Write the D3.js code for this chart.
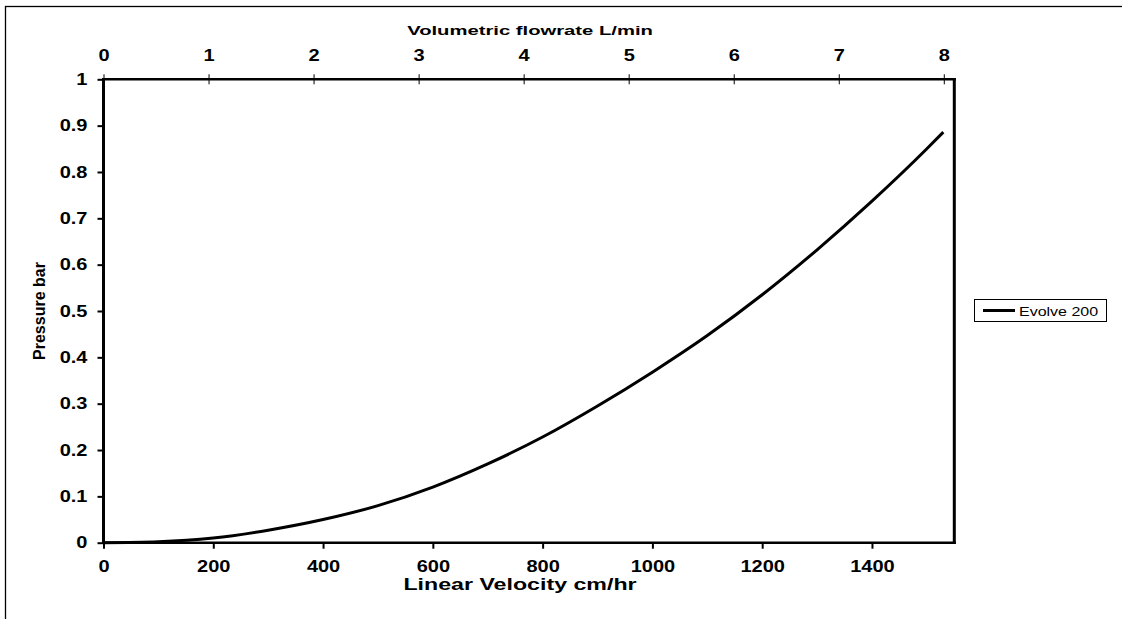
<!DOCTYPE html>
<html>
<head>
<meta charset="utf-8">
<script src="https://cdn.jsdelivr.net/npm/d3@7"></script>
<style>
  body { margin: 0; background: #fff; }
  svg text { font-family: 'Liberation Sans', Arial, sans-serif; fill: #000; }
  .tick text { font-size: 16px; font-weight: bold; }
</style>
</head>
<body>
<svg width="1122" height="619"></svg>
<script>
// linear velocity (cm/hr) and pressure (bar)
const velocity = [0, 100, 200, 300, 400, 500, 600, 700, 800, 900, 1000, 1100, 1200, 1300, 1400, 1500, 1530];
const pressure = [0, 0.002, 0.010, 0.027, 0.050, 0.080, 0.120, 0.170, 0.228, 0.295, 0.368, 0.447, 0.535, 0.632, 0.737, 0.850, 0.886];
const seriesName = 'Evolve 200';

const xTicks = [0, 200, 400, 600, 800, 1000, 1200, 1400];
const yTicks = [0, 0.1, 0.2, 0.3, 0.4, 0.5, 0.6, 0.7, 0.8, 0.9, 1];
const flowTicks = [0, 1, 2, 3, 4, 5, 6, 7, 8];

const svg = d3.select('svg');
const stretchX = 1.25;

const plot = { left: 103.5, right: 954.3, top: 79.3, bottom: 542.7 };

const xScale = d3.scaleLinear().domain([0, 1550]).range([plot.left, plot.right]);
const flowScale = d3.scaleLinear().domain([0, 8.1]).range([plot.left, plot.right]);
const yScale = d3.scaleLinear().domain([0, 1]).range([plot.bottom, plot.top]);

// excel text looks horizontally stretched
const stretch = (sel, sx) => sel.each(function () {
  const t = d3.select(this);
  const x = +t.attr('x') || 0;
  const y = +t.attr('y') || 0;
  t.attr('x', null).attr('y', null)
    .attr('transform', `translate(${x},${y}) scale(${sx},1)`);
});

// outer frame (runs off the page on right and bottom)
svg.append('rect')
  .attr('x', 5.5).attr('y', 6.5)
  .attr('width', 1300).attr('height', 800)
  .attr('fill', 'none').attr('stroke', '#000').attr('stroke-width', 1.3);

// left axis
const yAxisG = svg.append('g')
  .attr('transform', `translate(${plot.left},0)`)
  .call(d3.axisLeft(yScale).tickValues(yTicks).tickFormat(d => d).tickSize(6).tickPadding(10));
yAxisG.select('.domain').remove();
yAxisG.selectAll('.tick line').attr('stroke-width', 2);
stretch(yAxisG.selectAll('.tick text'), stretchX);

// bottom axis
const xAxisG = svg.append('g')
  .attr('transform', `translate(0,${plot.bottom})`)
  .call(d3.axisBottom(xScale).tickValues(xTicks).tickFormat(d => d).tickSize(6).tickPadding(12));
xAxisG.select('.domain').remove();
xAxisG.selectAll('.tick line').attr('stroke-width', 2);
stretch(xAxisG.selectAll('.tick text'), stretchX);

// top axis (flowrate), ticks cross the line
const topAxisG = svg.append('g')
  .attr('transform', `translate(0,${plot.top})`)
  .call(d3.axisTop(flowScale).tickValues(flowTicks).tickFormat(d => d).tickSize(5).tickPadding(13));
topAxisG.select('.domain').remove();
topAxisG.selectAll('.tick line').attr('y1', 5).attr('stroke-width', 1);
stretch(topAxisG.selectAll('.tick text'), stretchX);

// plot frame
const frame = svg.append('g').attr('stroke', '#000');
frame.append('line').attr('x1', plot.left).attr('x2', plot.right + 1.5)
  .attr('y1', plot.top).attr('y2', plot.top).attr('stroke-width', 2.5);
frame.append('line').attr('x1', plot.left).attr('x2', plot.right + 1.5)
  .attr('y1', plot.bottom).attr('y2', plot.bottom).attr('stroke-width', 2.5);
frame.append('line').attr('x1', plot.left).attr('x2', plot.left)
  .attr('y1', plot.top - 1.2).attr('y2', plot.bottom + 1.2).attr('stroke-width', 3);
frame.append('line').attr('x1', plot.right).attr('x2', plot.right)
  .attr('y1', plot.top - 1.2).attr('y2', plot.bottom + 1.2).attr('stroke-width', 3);

// curve
const data = velocity.map((v, i) => ({ v, p: pressure[i] }));
const line = d3.line()
  .x(d => xScale(d.v))
  .y(d => yScale(d.p))
  .curve(d3.curveMonotoneX);

svg.append('path')
  .attr('d', line(data))
  .attr('fill', 'none')
  .attr('stroke', '#000')
  .attr('stroke-width', 3);

// axis titles
svg.append('text')
  .attr('text-anchor', 'middle')
  .attr('font-size', 13.5).attr('font-weight', 'bold')
  .attr('transform', `translate(530,35) scale(1.5,1)`)
  .text('Volumetric flowrate L/min');

svg.append('text')
  .attr('text-anchor', 'middle')
  .attr('font-size', 16).attr('font-weight', 'bold')
  .attr('transform', `translate(520,590) scale(1.45,1)`)
  .text('Linear Velocity cm/hr');

svg.append('text')
  .attr('text-anchor', 'middle')
  .attr('font-size', 16).attr('font-weight', 'bold')
  .attr('transform', 'translate(45,311) rotate(-90)')
  .text('Pressure bar');

// legend
const legend = svg.append('g');
legend.append('rect')
  .attr('x', 974.5).attr('y', 299.5).attr('width', 132).attr('height', 22)
  .attr('fill', '#fff').attr('stroke', '#000').attr('stroke-width', 1);
legend.append('line')
  .attr('x1', 983).attr('x2', 1015).attr('y1', 310.5).attr('y2', 310.5)
  .attr('stroke', '#000').attr('stroke-width', 3);
legend.append('text')
  .attr('font-size', 13)
  .attr('transform', `translate(1019,315.5) scale(1.23,1)`)
  .text(seriesName);
</script>
</body>
</html>
